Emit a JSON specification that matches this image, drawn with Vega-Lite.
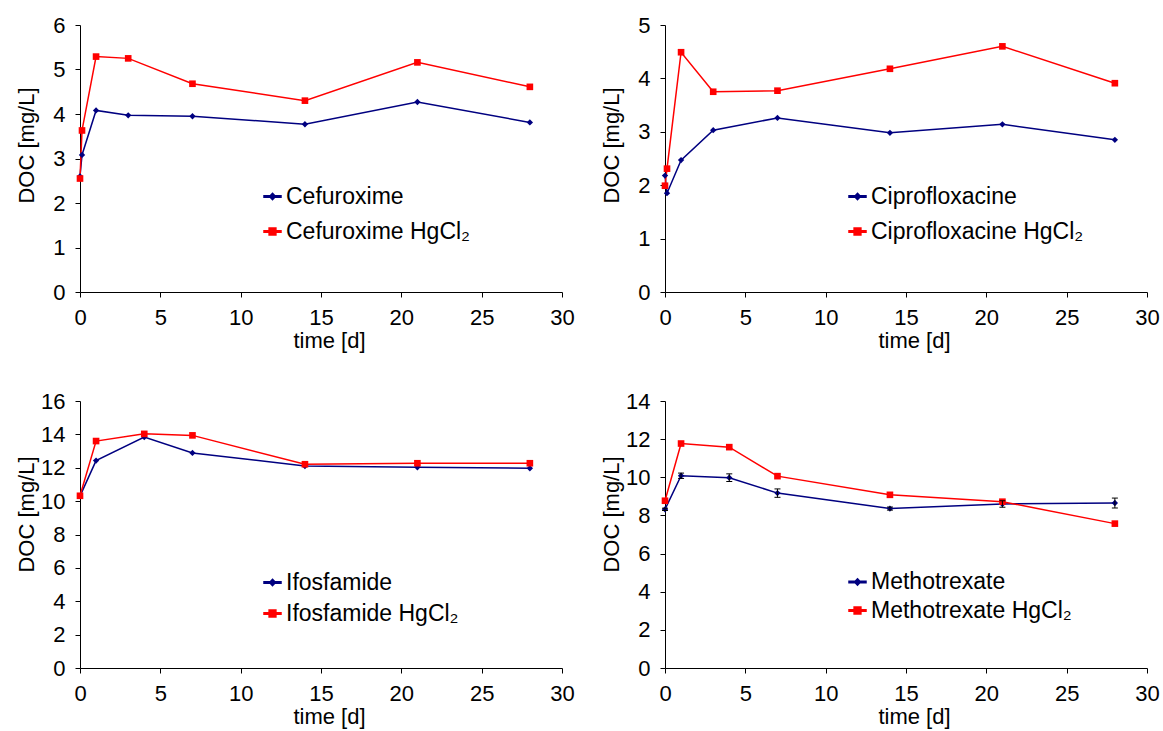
{
  "$schema": "https://vega.github.io/schema/vega-lite/v6.json",
  "padding": {"left": 15, "top": 14, "right": 5, "bottom": 5},
  "background": "white",
  "data": {"values": [
    {"drug": "Cefuroxime", "series": "Cefuroxime", "t": 0, "doc": 2.6},
    {"drug": "Cefuroxime", "series": "Cefuroxime", "t": 0.125, "doc": 3.08},
    {"drug": "Cefuroxime", "series": "Cefuroxime", "t": 1, "doc": 4.08},
    {"drug": "Cefuroxime", "series": "Cefuroxime", "t": 3, "doc": 3.97},
    {"drug": "Cefuroxime", "series": "Cefuroxime", "t": 7, "doc": 3.95},
    {"drug": "Cefuroxime", "series": "Cefuroxime", "t": 14, "doc": 3.77},
    {"drug": "Cefuroxime", "series": "Cefuroxime", "t": 21, "doc": 4.27},
    {"drug": "Cefuroxime", "series": "Cefuroxime", "t": 28, "doc": 3.81},
    {"drug": "Cefuroxime", "series": "Cefuroxime HgCl₂", "t": 0, "doc": 2.55},
    {"drug": "Cefuroxime", "series": "Cefuroxime HgCl₂", "t": 0.125, "doc": 3.63},
    {"drug": "Cefuroxime", "series": "Cefuroxime HgCl₂", "t": 1, "doc": 5.29},
    {"drug": "Cefuroxime", "series": "Cefuroxime HgCl₂", "t": 3, "doc": 5.25},
    {"drug": "Cefuroxime", "series": "Cefuroxime HgCl₂", "t": 7, "doc": 4.68},
    {"drug": "Cefuroxime", "series": "Cefuroxime HgCl₂", "t": 14, "doc": 4.3},
    {"drug": "Cefuroxime", "series": "Cefuroxime HgCl₂", "t": 21, "doc": 5.16},
    {"drug": "Cefuroxime", "series": "Cefuroxime HgCl₂", "t": 28, "doc": 4.61},
    {"drug": "Ciprofloxacine", "series": "Ciprofloxacine", "t": 0, "doc": 2.18},
    {"drug": "Ciprofloxacine", "series": "Ciprofloxacine", "t": 0.125, "doc": 1.85},
    {"drug": "Ciprofloxacine", "series": "Ciprofloxacine", "t": 1, "doc": 2.47},
    {"drug": "Ciprofloxacine", "series": "Ciprofloxacine", "t": 3, "doc": 3.03},
    {"drug": "Ciprofloxacine", "series": "Ciprofloxacine", "t": 7, "doc": 3.26},
    {"drug": "Ciprofloxacine", "series": "Ciprofloxacine", "t": 14, "doc": 2.98},
    {"drug": "Ciprofloxacine", "series": "Ciprofloxacine", "t": 21, "doc": 3.14},
    {"drug": "Ciprofloxacine", "series": "Ciprofloxacine", "t": 28, "doc": 2.85},
    {"drug": "Ciprofloxacine", "series": "Ciprofloxacine HgCl₂", "t": 0, "doc": 1.99},
    {"drug": "Ciprofloxacine", "series": "Ciprofloxacine HgCl₂", "t": 0.125, "doc": 2.31},
    {"drug": "Ciprofloxacine", "series": "Ciprofloxacine HgCl₂", "t": 1, "doc": 4.49},
    {"drug": "Ciprofloxacine", "series": "Ciprofloxacine HgCl₂", "t": 3, "doc": 3.75},
    {"drug": "Ciprofloxacine", "series": "Ciprofloxacine HgCl₂", "t": 7, "doc": 3.77},
    {"drug": "Ciprofloxacine", "series": "Ciprofloxacine HgCl₂", "t": 14, "doc": 4.18},
    {"drug": "Ciprofloxacine", "series": "Ciprofloxacine HgCl₂", "t": 21, "doc": 4.6},
    {"drug": "Ciprofloxacine", "series": "Ciprofloxacine HgCl₂", "t": 28, "doc": 3.91},
    {"drug": "Ifosfamide", "series": "Ifosfamide", "t": 0, "doc": 10.3},
    {"drug": "Ifosfamide", "series": "Ifosfamide", "t": 1, "doc": 12.43},
    {"drug": "Ifosfamide", "series": "Ifosfamide", "t": 4, "doc": 13.84},
    {"drug": "Ifosfamide", "series": "Ifosfamide", "t": 7, "doc": 12.89},
    {"drug": "Ifosfamide", "series": "Ifosfamide", "t": 14, "doc": 12.1},
    {"drug": "Ifosfamide", "series": "Ifosfamide", "t": 21, "doc": 12.03},
    {"drug": "Ifosfamide", "series": "Ifosfamide", "t": 28, "doc": 11.97},
    {"drug": "Ifosfamide", "series": "Ifosfamide HgCl₂", "t": 0, "doc": 10.32},
    {"drug": "Ifosfamide", "series": "Ifosfamide HgCl₂", "t": 1, "doc": 13.6},
    {"drug": "Ifosfamide", "series": "Ifosfamide HgCl₂", "t": 4, "doc": 14.03},
    {"drug": "Ifosfamide", "series": "Ifosfamide HgCl₂", "t": 7, "doc": 13.94},
    {"drug": "Ifosfamide", "series": "Ifosfamide HgCl₂", "t": 14, "doc": 12.21},
    {"drug": "Ifosfamide", "series": "Ifosfamide HgCl₂", "t": 21, "doc": 12.27},
    {"drug": "Ifosfamide", "series": "Ifosfamide HgCl₂", "t": 28, "doc": 12.27},
    {"drug": "Methotrexate", "series": "Methotrexate", "t": 0, "doc": 8.32, "lo": 8.26, "hi": 8.38},
    {"drug": "Methotrexate", "series": "Methotrexate", "t": 1, "doc": 10.08, "lo": 9.94, "hi": 10.22},
    {"drug": "Methotrexate", "series": "Methotrexate", "t": 4, "doc": 9.98, "lo": 9.78, "hi": 10.18},
    {"drug": "Methotrexate", "series": "Methotrexate", "t": 7, "doc": 9.17, "lo": 8.95, "hi": 9.39},
    {"drug": "Methotrexate", "series": "Methotrexate", "t": 14, "doc": 8.36, "lo": 8.28, "hi": 8.44},
    {"drug": "Methotrexate", "series": "Methotrexate", "t": 21, "doc": 8.6, "lo": 8.43, "hi": 8.77},
    {"drug": "Methotrexate", "series": "Methotrexate", "t": 28, "doc": 8.65, "lo": 8.39, "hi": 8.91},
    {"drug": "Methotrexate", "series": "Methotrexate HgCl₂", "t": 0, "doc": 8.77},
    {"drug": "Methotrexate", "series": "Methotrexate HgCl₂", "t": 1, "doc": 11.77},
    {"drug": "Methotrexate", "series": "Methotrexate HgCl₂", "t": 4, "doc": 11.58},
    {"drug": "Methotrexate", "series": "Methotrexate HgCl₂", "t": 7, "doc": 10.06},
    {"drug": "Methotrexate", "series": "Methotrexate HgCl₂", "t": 14, "doc": 9.08},
    {"drug": "Methotrexate", "series": "Methotrexate HgCl₂", "t": 21, "doc": 8.72},
    {"drug": "Methotrexate", "series": "Methotrexate HgCl₂", "t": 28, "doc": 7.57}
  ]},
  "columns": 2,
  "bounds": "flush",
  "spacing": {"row": 109, "column": 103},
  "concat": [
    {
      "width": 482, "height": 267,
      "transform": [{"filter": "datum.drug === 'Cefuroxime'"}],
      "encoding": {
        "x": {"field": "t", "type": "quantitative", "scale": {"domain": [0, 30], "nice": false}, "axis": {"values": [0, 5, 10, 15, 20, 25, 30], "title": "time [d]", "titleX": 249, "titleY": 38}},
        "y": {"field": "doc", "type": "quantitative", "scale": {"domain": [0, 6], "nice": false}, "axis": {"values": [0, 1, 2, 3, 4, 5, 6], "title": "DOC [mg/L]", "titleX": -42, "titleY": 120}},
        "color": {"field": "series", "type": "nominal", "scale": {"domain": ["Cefuroxime", "Cefuroxime HgCl₂"], "range": ["#000080", "#ff0000"]},
          "legend": {"orient": "none", "legendX": 181, "legendY": 160, "rowPadding": 11,
            "encode": {"symbols": {"update": {
              "shape": {"signal": "indexof(datum.value, 'HgCl') >= 0 ? 'M-1,-0.09H1V0.09H-1ZM-0.4,-0.4H0.4V0.4H-0.4Z' : 'M-1,-0.09H1V0.09H-1ZM0,-0.38L0.35,0L0,0.38L-0.35,0Z'"},
              "fill": {"signal": "indexof(datum.value, 'HgCl') >= 0 ? '#ff0000' : '#000080'"},
              "stroke": {"value": "transparent"},
              "size": {"value": 289}, "opacity": {"value": 1}}}}}}
      },
      "layer": [
        {"mark": {"type": "line", "strokeWidth": 1.5}},
        {"transform": [{"filter": "indexof(datum.series, 'HgCl') < 0"}], "mark": {"type": "point", "shape": "diamond", "filled": true, "size": 40, "opacity": 1}},
        {"transform": [{"filter": "indexof(datum.series, 'HgCl') >= 0"}], "mark": {"type": "point", "shape": "square", "filled": true, "size": 44, "opacity": 1}}
      ]
    },
    {
      "width": 482, "height": 267,
      "transform": [{"filter": "datum.drug === 'Ciprofloxacine'"}],
      "encoding": {
        "x": {"field": "t", "type": "quantitative", "scale": {"domain": [0, 30], "nice": false}, "axis": {"values": [0, 5, 10, 15, 20, 25, 30], "title": "time [d]", "titleX": 249, "titleY": 38}},
        "y": {"field": "doc", "type": "quantitative", "scale": {"domain": [0, 5], "nice": false}, "axis": {"values": [0, 1, 2, 3, 4, 5], "title": "DOC [mg/L]", "titleX": -42, "titleY": 120}},
        "color": {"field": "series", "type": "nominal", "scale": {"domain": ["Ciprofloxacine", "Ciprofloxacine HgCl₂"], "range": ["#000080", "#ff0000"]},
          "legend": {"orient": "none", "legendX": 181, "legendY": 160, "rowPadding": 11,
            "encode": {"symbols": {"update": {
              "shape": {"signal": "indexof(datum.value, 'HgCl') >= 0 ? 'M-1,-0.09H1V0.09H-1ZM-0.4,-0.4H0.4V0.4H-0.4Z' : 'M-1,-0.09H1V0.09H-1ZM0,-0.38L0.35,0L0,0.38L-0.35,0Z'"},
              "fill": {"signal": "indexof(datum.value, 'HgCl') >= 0 ? '#ff0000' : '#000080'"},
              "stroke": {"value": "transparent"},
              "size": {"value": 289}, "opacity": {"value": 1}}}}}}
      },
      "layer": [
        {"mark": {"type": "line", "strokeWidth": 1.5}},
        {"transform": [{"filter": "indexof(datum.series, 'HgCl') < 0"}], "mark": {"type": "point", "shape": "diamond", "filled": true, "size": 40, "opacity": 1}},
        {"transform": [{"filter": "indexof(datum.series, 'HgCl') >= 0"}], "mark": {"type": "point", "shape": "square", "filled": true, "size": 44, "opacity": 1}}
      ]
    },
    {
      "width": 482, "height": 267,
      "transform": [{"filter": "datum.drug === 'Ifosfamide'"}],
      "encoding": {
        "x": {"field": "t", "type": "quantitative", "scale": {"domain": [0, 30], "nice": false}, "axis": {"values": [0, 5, 10, 15, 20, 25, 30], "title": "time [d]", "titleX": 249, "titleY": 38}},
        "y": {"field": "doc", "type": "quantitative", "scale": {"domain": [0, 16], "nice": false}, "axis": {"values": [0, 2, 4, 6, 8, 10, 12, 14, 16], "title": "DOC [mg/L]", "titleX": -42, "titleY": 113}},
        "color": {"field": "series", "type": "nominal", "scale": {"domain": ["Ifosfamide", "Ifosfamide HgCl₂"], "range": ["#000080", "#ff0000"]},
          "legend": {"orient": "none", "legendX": 181, "legendY": 170, "rowPadding": 7,
            "encode": {"symbols": {"update": {
              "shape": {"signal": "indexof(datum.value, 'HgCl') >= 0 ? 'M-1,-0.09H1V0.09H-1ZM-0.4,-0.4H0.4V0.4H-0.4Z' : 'M-1,-0.09H1V0.09H-1ZM0,-0.38L0.35,0L0,0.38L-0.35,0Z'"},
              "fill": {"signal": "indexof(datum.value, 'HgCl') >= 0 ? '#ff0000' : '#000080'"},
              "stroke": {"value": "transparent"},
              "size": {"value": 289}, "opacity": {"value": 1}}}}}}
      },
      "layer": [
        {"mark": {"type": "line", "strokeWidth": 1.5}},
        {"transform": [{"filter": "indexof(datum.series, 'HgCl') < 0"}], "mark": {"type": "point", "shape": "diamond", "filled": true, "size": 40, "opacity": 1}},
        {"transform": [{"filter": "indexof(datum.series, 'HgCl') >= 0"}], "mark": {"type": "point", "shape": "square", "filled": true, "size": 44, "opacity": 1}}
      ]
    },
    {
      "width": 482, "height": 267,
      "transform": [{"filter": "datum.drug === 'Methotrexate'"}],
      "encoding": {
        "x": {"field": "t", "type": "quantitative", "scale": {"domain": [0, 30], "nice": false}, "axis": {"values": [0, 5, 10, 15, 20, 25, 30], "title": "time [d]", "titleX": 249, "titleY": 38}},
        "y": {"field": "doc", "type": "quantitative", "scale": {"domain": [0, 14], "nice": false}, "axis": {"values": [0, 2, 4, 6, 8, 10, 12, 14], "title": "DOC [mg/L]", "titleX": -42, "titleY": 113}},
        "color": {"field": "series", "type": "nominal", "scale": {"domain": ["Methotrexate", "Methotrexate HgCl₂"], "range": ["#000080", "#ff0000"]},
          "legend": {"orient": "none", "legendX": 181, "legendY": 169.5, "rowPadding": 4.5,
            "encode": {"symbols": {"update": {
              "shape": {"signal": "indexof(datum.value, 'HgCl') >= 0 ? 'M-1,-0.09H1V0.09H-1ZM-0.4,-0.4H0.4V0.4H-0.4Z' : 'M-1,-0.09H1V0.09H-1ZM0,-0.38L0.35,0L0,0.38L-0.35,0Z'"},
              "fill": {"signal": "indexof(datum.value, 'HgCl') >= 0 ? '#ff0000' : '#000080'"},
              "stroke": {"value": "transparent"},
              "size": {"value": 289}, "opacity": {"value": 1}}}}}}
      },
      "layer": [
        {"mark": {"type": "line", "strokeWidth": 1.5}},
        {"transform": [{"filter": "indexof(datum.series, 'HgCl') < 0"}], "mark": {"type": "point", "shape": "diamond", "filled": true, "size": 40, "opacity": 1}},
        {"transform": [{"filter": "indexof(datum.series, 'HgCl') >= 0"}], "mark": {"type": "point", "shape": "square", "filled": true, "size": 44, "opacity": 1}},
        {"transform": [{"filter": "isValid(datum.lo)"}], "mark": {"type": "rule", "color": "black", "strokeWidth": 1}, "encoding": {"y": {"field": "lo", "type": "quantitative"}, "y2": {"field": "hi"}, "color": {"value": "black"}}},
        {"transform": [{"filter": "isValid(datum.lo)"}], "mark": {"type": "tick", "orient": "horizontal", "size": 6, "thickness": 1, "color": "black", "opacity": 1}, "encoding": {"y": {"field": "lo", "type": "quantitative"}, "color": {"value": "black"}}},
        {"transform": [{"filter": "isValid(datum.lo)"}], "mark": {"type": "tick", "orient": "horizontal", "size": 6, "thickness": 1, "color": "black", "opacity": 1}, "encoding": {"y": {"field": "hi", "type": "quantitative"}, "color": {"value": "black"}}}
      ]
    }
  ],
  "resolve": {"scale": {"color": "independent", "x": "independent", "y": "independent"}, "legend": {"color": "independent"}},
  "config": {
    "font": "Liberation Sans",
    "view": {"stroke": null},
    "axis": {"labelFont": "Liberation Sans", "titleFont": "Liberation Sans", "labelFontSize": 22, "titleFontSize": 22, "titleFontWeight": "normal", "labelColor": "#000", "titleColor": "#000", "domainColor": "#000", "tickColor": "#000", "domainWidth": 1, "tickWidth": 1, "tickSize": 5, "labelPadding": 10, "grid": false, "labelFlush": false, "labelOverlap": false},
    "legend": {"title": null, "padding": 0, "labelFont": "Liberation Sans", "labelFontSize": 23, "labelColor": "#000", "labelOffset": 2, "symbolSize": 289, "labelLimit": 0, "symbolOpacity": 1}
  }
}
